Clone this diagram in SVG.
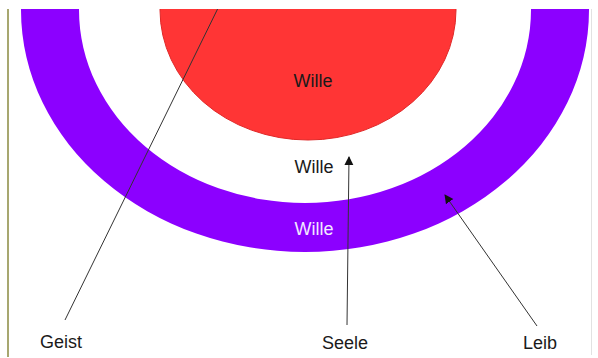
<svg xmlns="http://www.w3.org/2000/svg" width="598" height="358" viewBox="0 0 598 358">
  <style>
    .lbl { font-family: "Liberation Sans", Arial, sans-serif; font-size: 18px; fill: #1a1a1a; text-anchor: middle; }
    .conn { stroke: #333; stroke-width: 1; fill: none; }
  </style>
  <defs>
    <clipPath id="frame"><rect x="8" y="9" width="583" height="348"/></clipPath>
    <marker id="arr" viewBox="0 0 10 10" refX="9" refY="5" markerWidth="9" markerHeight="11" markerUnits="userSpaceOnUse" orient="auto">
      <path d="M0,0 L10,5 L0,10 z" fill="#111"/>
    </marker>
  </defs>
  <rect x="0" y="0" width="598" height="358" fill="#fff"/>
  <g clip-path="url(#frame)">
    <g id="leib">
      <path d="M21,10 A284,242 0 0 0 589,10 A284,242 0 0 0 21,10 Z M79,10 A226,193 0 0 0 531,10 A226,193 0 0 0 79,10 Z" fill="#8C00FF" fill-rule="evenodd"/>
      <text class="lbl" x="314" y="235" style="fill:#f2e8ff">Wille</text>
    </g>
    <g id="seele">
      <text class="lbl" x="314" y="173">Wille</text>
    </g>
    <g id="geist">
      <ellipse cx="308" cy="10" rx="148" ry="130" fill="#FF3535" stroke="#e02828" stroke-width="1"/>
      <text class="lbl" x="313" y="87">Wille</text>
    </g>
    <g id="connectors">
      <line class="conn" x1="65" y1="320" x2="222" y2="0"/>
      <line class="conn" x1="347" y1="325" x2="349" y2="157" marker-end="url(#arr)"/>
      <line class="conn" x1="537" y1="326" x2="445" y2="195" marker-end="url(#arr)"/>
    </g>
  </g>
  <line x1="8" y1="9" x2="8" y2="357" stroke="#8a8a40" stroke-width="1.5"/>
  <line x1="591.5" y1="9" x2="591.5" y2="355" stroke="#e2e2e2" stroke-width="1"/>
  <g id="labels">
    <text class="lbl" x="61" y="348">Geist</text>
    <text class="lbl" x="345" y="349">Seele</text>
    <text class="lbl" x="540" y="349">Leib</text>
  </g>
</svg>
